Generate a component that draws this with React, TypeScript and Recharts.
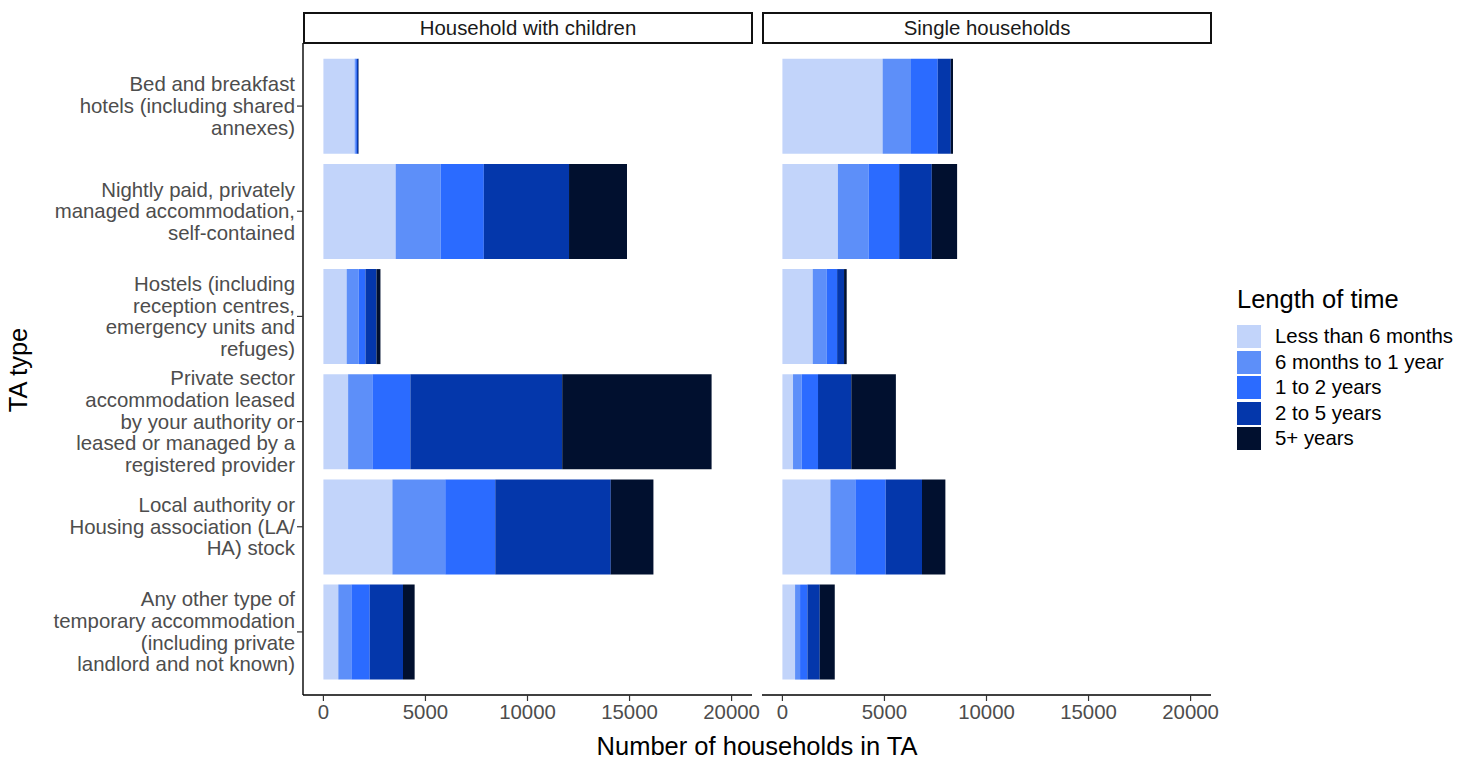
import { Bar, BarChart, XAxis, YAxis } from "recharts"

// TA types, wrapped the way the axis shows them
const categories = [
  "Bed and breakfast\nhotels (including shared\nannexes)",
  "Nightly paid, privately\nmanaged accommodation,\nself-contained",
  "Hostels (including\nreception centres,\nemergency units and\nrefuges)",
  "Private sector\naccommodation leased\nby your authority or\nleased or managed by a\nregistered provider",
  "Local authority or\nHousing association (LA/\nHA) stock",
  "Any other type of\ntemporary accommodation\n(including private\nlandlord and not known)",
]

const panels = ["Household with children", "Single households"]

const seriesKeys = ["lt6m", "m6to1y", "y1to2", "y2to5", "y5plus"]
const seriesNames = ["Less than 6 months", "6 months to 1 year", "1 to 2 years", "2 to 5 years", "5+ years"]
const seriesColors = ["#c2d4fa", "#5d8ff9", "#2b6bff", "#0437ab", "#01102f"]

// households with children
const childrenLt6m = [1530, 3540, 1140, 1210, 3380, 730]
const children6mTo1y = [40, 2200, 590, 1190, 2590, 640]
const children1to2y = [70, 2120, 330, 1860, 2450, 900]
const children2to5y = [70, 4175, 540, 7440, 5660, 1630]
const children5plus = [15, 2840, 195, 7320, 2090, 570]

// single households
const singleLt6m = [4910, 2720, 1485, 520, 2350, 620]
const single6mTo1y = [1390, 1500, 690, 425, 1225, 245]
const single1to2y = [1310, 1500, 505, 800, 1485, 360]
const single2to5y = [640, 1600, 340, 1630, 1780, 605]
const single5plus = [110, 1240, 130, 2185, 1145, 735]

const xTicks = [0, 5000, 10000, 15000, 20000]

function buildRows(cols: number[][]) {
  return categories.map((name, i) => {
    const row: Record<string, string | number> = { name }
    seriesKeys.forEach((k, j) => {
      row[k] = cols[j][i]
    })
    return row
  })
}

const childrenData = buildRows([childrenLt6m, children6mTo1y, children1to2y, children2to5y, children5plus])
const singleData = buildRows([singleLt6m, single6mTo1y, single1to2y, single2to5y, single5plus])

const FONT = "'Liberation Sans', Arial, sans-serif"

function CategoryTick({ x, y, payload }: any) {
  const lines = String(payload.value).split("\n")
  const lh = 21.7
  const start = -((lines.length - 1) * lh) / 2
  return (
    <text x={x} y={y} textAnchor="end" fill="#4d4d4d" fontSize={20.4} fontFamily={FONT}>
      {lines.map((line, i) => (
        <tspan key={i} x={x} dy={i === 0 ? start + 7 : lh}>
          {line}
        </tspan>
      ))}
    </text>
  )
}

function Panel({ data, showY, width }: { data: any[]; showY: boolean; width: number }) {
  return (
    <BarChart
      width={width}
      height={760}
      data={data}
      layout="vertical"
      margin={{ top: 43, right: 8, bottom: 35, left: 0 }}
      barCategoryGap="5%"
    >
      <XAxis
        type="number"
        domain={[-1000, 21000]}
        ticks={xTicks}
        height={30}
        tickSize={6}
        tickMargin={4}
        axisLine={{ stroke: "#000", strokeWidth: 1.4 }}
        tickLine={{ stroke: "#333", strokeWidth: 1.2 }}
        tick={{ fill: "#4d4d4d", fontSize: 20.4, fontFamily: FONT }}
      />
      <YAxis
        type="category"
        dataKey="name"
        hide={!showY}
        width={303}
        padding={{ top: 10.5, bottom: 10.5 }}
        tickSize={6}
        tickMargin={2}
        interval={0}
        axisLine={{ stroke: "#000", strokeWidth: 1.4 }}
        tickLine={{ stroke: "#333", strokeWidth: 1.2 }}
        tick={<CategoryTick />}
      />
      {seriesKeys.map((k, j) => (
        <Bar key={k} dataKey={k} name={seriesNames[j]} stackId="s" fill={seriesColors[j]} isAnimationActive={false} />
      ))}
    </BarChart>
  )
}

function Strip({ left, label }: { left: number; label: string }) {
  return (
    <div
      style={{
        position: "absolute",
        left,
        top: 12,
        width: 450,
        height: 32,
        boxSizing: "border-box",
        border: "2px solid #111",
        background: "#fff",
        color: "#1a1a1a",
        fontSize: 20.4,
        lineHeight: "28px",
        textAlign: "center",
      }}
    >
      {label}
    </div>
  )
}

export default function App() {
  return (
    <div
      style={{
        position: "absolute",
        left: 0,
        top: 0,
        width: 1459,
        height: 760,
        background: "#fff",
        fontFamily: FONT,
        overflow: "hidden",
      }}
    >
      <div style={{ position: "absolute", left: 0, top: 0 }}>
        <Panel data={childrenData} showY={true} width={760} />
      </div>
      <div style={{ position: "absolute", left: 762, top: 0 }}>
        <Panel data={singleData} showY={false} width={457} />
      </div>
      <Strip left={303} label={panels[0]} />
      <Strip left={762} label={panels[1]} />

      <div
        style={{
          position: "absolute",
          left: 457,
          top: 733,
          width: 600,
          textAlign: "center",
          fontSize: 25.5,
          lineHeight: "26px",
          color: "#000",
        }}
      >
        Number of households in TA
      </div>
      <div
        style={{
          position: "absolute",
          left: 18 - 100,
          top: 370 - 13,
          width: 200,
          textAlign: "center",
          fontSize: 25.5,
          lineHeight: "26px",
          color: "#000",
          transform: "rotate(-90deg)",
        }}
      >
        TA type
      </div>

      <div style={{ position: "absolute", left: 1237, top: 286, fontSize: 25.5, lineHeight: "26px", color: "#000" }}>
        Length of time
      </div>
      {seriesNames.map((name, j) => (
        <div
          key={name}
          style={{
            position: "absolute",
            left: 1237,
            top: 324 + j * 25.5,
            height: 25.5,
            display: "flex",
            alignItems: "center",
          }}
        >
          <div style={{ width: 24, height: 23, background: seriesColors[j] }} />
          <div style={{ marginLeft: 14, fontSize: 20.4, color: "#000", whiteSpace: "nowrap" }}>{name}</div>
        </div>
      ))}
    </div>
  )
}
